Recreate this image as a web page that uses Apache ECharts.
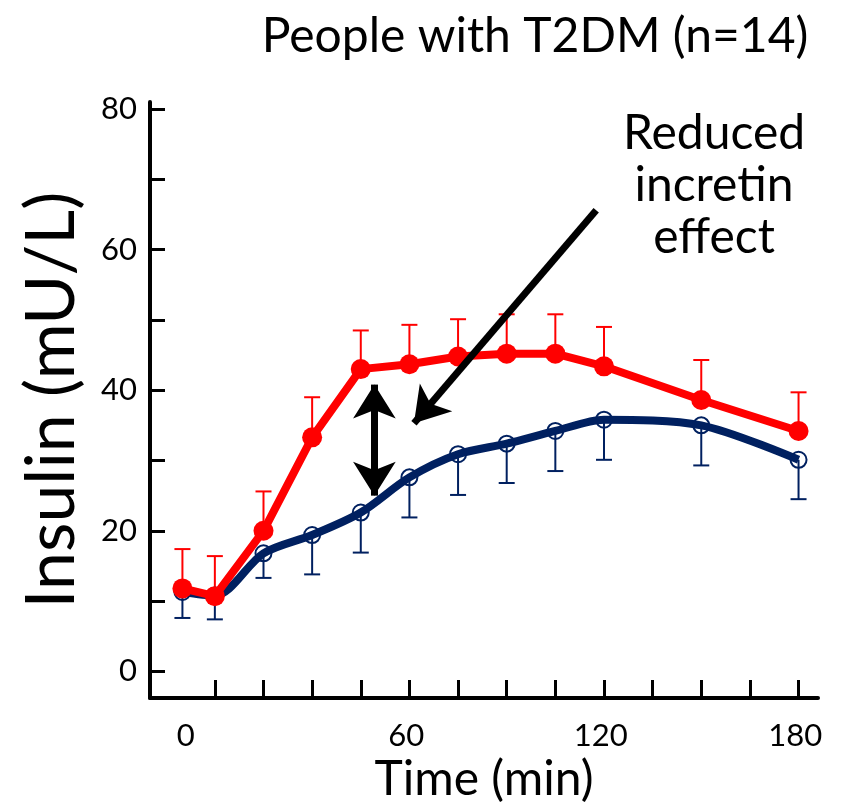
<!DOCTYPE html>
<html>
<head>
<meta charset="utf-8">
<script src="https://cdn.jsdelivr.net/npm/echarts@6/dist/echarts.min.js"></script>
<style>
  html, body { margin: 0; padding: 0; background: #fff; }
  #chart { width: 843px; height: 809px; }
</style>
</head>
<body>
<div id="chart"></div>
<script>
// sampling times (min)
var times = [-10, 0, 15, 30, 45, 60, 75, 90, 105, 120, 150, 180];
// oral glucose (red) mean and upper error
var oralMean = [11.8, 10.7, 20.0, 33.3, 43.0, 43.7, 44.8, 45.2, 45.2, 43.4, 38.6, 34.2];
var oralUpper = [17.4, 16.4, 25.6, 39.0, 48.5, 49.3, 50.1, 50.8, 50.8, 49.0, 44.3, 39.7];
// isoglycaemic iv glucose (blue) mean and lower error
var ivMean = [11.3, 10.8, 16.8, 19.4, 22.6, 27.6, 30.9, 32.4, 34.2, 35.8, 35.0, 30.1];
var ivLower = [7.6, 7.4, 13.3, 13.8, 16.9, 21.9, 25.1, 26.8, 28.5, 30.1, 29.3, 24.5];

var yTicks = [0, 10, 20, 30, 40, 50, 60, 70, 80];
var yLabels = [0, 20, 40, 60, 80];
var xTicks = [0, 15, 30, 45, 60, 75, 90, 105, 120, 135, 150, 165, 180];
var xLabelPos = [-9, 59, 119, 179];
var xLabelText = ['0', '60', '120', '180'];

var RED = '#ff0000';
var NAVY = '#002060';
var FONT = 'Lato';

function zip(a, b) {
    return a.map(function (v, i) { return [times[i], v, b ? b[i] : null]; });
}

function errorBar(color) {
    return function (params, api) {
        var p0 = api.coord([api.value(0), api.value(1)]);
        var p1 = api.coord([api.value(0), api.value(2)]);
        var half = 8;
        return {
            type: 'group',
            children: [
                { type: 'line', shape: { x1: p0[0], y1: p0[1], x2: p1[0], y2: p1[1] },
                  style: { stroke: color, lineWidth: 2 } },
                { type: 'line', shape: { x1: p1[0] - half, y1: p1[1], x2: p1[0] + half, y2: p1[1] },
                  style: { stroke: color, lineWidth: 2 } }
            ]
        };
    };
}

var chart = echarts.init(document.getElementById('chart'));
chart.setOption({
    animation: false,
    textStyle: { fontFamily: FONT },
    title: {
        text: 'People with T2DM (n=14)',
        left: 530,
        top: 8,
        textAlign: 'center',
        textStyle: { fontFamily: FONT, fontSize: 48, fontWeight: 'normal', color: '#000' }
    },
    graphic: [
        {
            type: 'text',
            style: {
                x: 714, y: 108,
                text: 'Reduced\nincretin\neffect',
                align: 'center',
                fontFamily: FONT,
                fontSize: 48,
                lineHeight: 52,
                fill: '#000'
            }
        }
    ],
    grid: { left: 150, right: 25, top: 102, bottom: 107 },
    xAxis: {
        type: 'value',
        min: -20,
        max: 186,
        name: 'Time (min)',
        nameLocation: 'middle',
        nameGap: 54,
        nameTextStyle: { fontFamily: FONT, fontSize: 48, color: '#000' },
        axisLine: { show: true, onZero: false, lineStyle: { color: '#000', width: 4 } },
        axisTick: { show: true, inside: true, length: 18, lineStyle: { color: '#000', width: 3 },
                    customValues: xTicks },
        axisLabel: {
            customValues: xLabelPos,
            margin: 22,
            fontSize: 31,
            color: '#000',
            fontFamily: FONT,
            formatter: function (v) { return xLabelText[xLabelPos.indexOf(v)]; }
        },
        splitLine: { show: false }
    },
    yAxis: {
        type: 'value',
        min: -3.8,
        max: 81,
        name: 'Insulin (mU/L)',
        nameLocation: 'middle',
        nameGap: 64,
        nameTextStyle: { fontFamily: FONT, fontSize: 68, color: '#000' },
        axisLine: { show: true, onZero: false, lineStyle: { color: '#000', width: 4 } },
        axisTick: { show: true, inside: true, length: 15, lineStyle: { color: '#000', width: 3 },
                    customValues: yTicks },
        axisLabel: {
            customValues: yLabels,
            margin: 13,
            fontSize: 31,
            color: '#000',
            fontFamily: FONT
        },
        splitLine: { show: false }
    },
    series: [
        {
            name: 'iv error',
            type: 'custom',
            renderItem: errorBar(NAVY),
            data: zip(ivMean, ivLower),
            z: 1
        },
        {
            name: 'oral error',
            type: 'custom',
            renderItem: errorBar(RED),
            data: zip(oralMean, oralUpper),
            z: 1
        },
        {
            name: 'iv',
            type: 'line',
            smooth: 0.3,
            data: zip(ivMean),
            symbol: 'circle',
            symbolSize: 16,
            lineStyle: { color: NAVY, width: 8 },
            itemStyle: { color: 'rgba(255,255,255,0)', borderColor: NAVY, borderWidth: 2 },
            z: 3
        },
        {
            name: 'oral',
            type: 'line',
            data: zip(oralMean),
            symbol: 'circle',
            symbolSize: 20,
            lineStyle: { color: RED, width: 8 },
            itemStyle: { color: RED },
            z: 4,
            markLine: {
                silent: true,
                symbol: ['arrow', 'arrow'],
                symbolSize: [32, 34],
                label: { show: false },
                lineStyle: { color: '#000', width: 7, type: 'solid' },
                data: [
                    [
                        { coord: [117.6, 65.6], symbol: 'none' },
                        { coord: [61.4, 35.3] }
                    ],
                    [
                        { coord: [49.2, 40.8] },
                        { coord: [49.2, 25.0] }
                    ]
                ],
                z: 5
            }
        }
    ]
});
</script>
</body>
</html>
